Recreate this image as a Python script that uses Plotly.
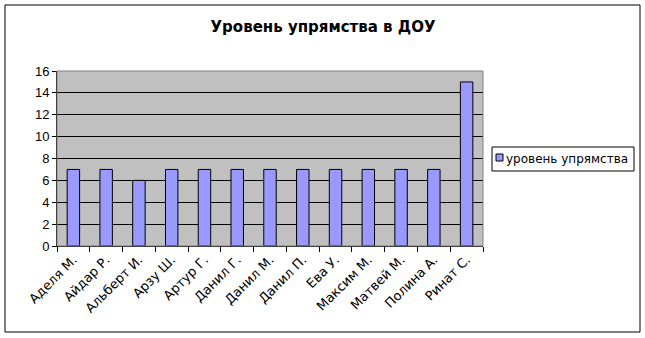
import plotly.graph_objects as go

categories = ["Аделя М.", "Айдар Р.", "Альберт И.", "Арзу Ш.", "Артур Г.", "Данил Г.",
              "Данил М.", "Данил П.", "Ева У.", "Максим М.", "Матвей М.", "Полина А.", "Ринат С."]
values = [7, 7, 6, 7, 7, 7, 7, 7, 7, 7, 7, 7, 15]
series_name = "уровень упрямства"
title = "Уровень упрямства в ДОУ"

W, H = 645, 338
L, R, T, B = 57, 483, 71, 246
BAR_COLOR = "#9999FF"

fig = go.Figure()
fig.add_trace(go.Bar(
    x=categories, y=values, name=series_name,
    marker=dict(color=BAR_COLOR, line=dict(color="black", width=1)),
    width=0.38, showlegend=False,
))

def px_x(p):
    return (p - L) / (R - L)

def px_y(p):
    return (B - p) / (B - T)

fig.update_layout(
    width=W, height=H,
    margin=dict(l=L, r=W - R, t=T, b=H - B, pad=0, autoexpand=False),
    paper_bgcolor="white", plot_bgcolor="#C0C0C0",
    font=dict(family="Liberation Sans, Arial, sans-serif", color="black", size=12),
    title=dict(text="<b>" + title + "</b>", x=323 / W, xanchor="center", y=1 - 27 / H, yanchor="middle",
               font=dict(size=15, family="DejaVu Sans, sans-serif")),
    showlegend=False,
    xaxis=dict(showgrid=False, showline=True, linecolor="black", linewidth=1,
               ticks="outside", ticklen=5, tickcolor="black", tickson="boundaries",
               tickangle=-45, tickfont=dict(size=13, family="DejaVu Sans, sans-serif"), mirror=False),
    yaxis=dict(range=[0, 16], dtick=2, showgrid=True, gridcolor="black", gridwidth=1,
               showline=True, linecolor="black", linewidth=1, ticks="outside", ticklen=4,
               tickcolor="black", tickfont=dict(size=13), zeroline=False),
    shapes=[
        dict(type="rect", xref="paper", yref="paper",
             x0=px_x(5), x1=px_x(640), y0=px_y(332), y1=px_y(5),
             line=dict(color="black", width=1), fillcolor="rgba(0,0,0,0)", layer="below"),
        dict(type="rect", xref="paper", yref="paper", x0=0, x1=1, y0=0, y1=1,
             line=dict(color="#808080", width=1), fillcolor="rgba(0,0,0,0)"),
        # legend box
        dict(type="rect", xref="paper", yref="paper",
             x0=px_x(492), x1=px_x(634), y0=px_y(171), y1=px_y(147),
             line=dict(color="black", width=1), fillcolor="white"),
        # legend swatch
        dict(type="rect", xref="paper", yref="paper",
             x0=px_x(496), x1=px_x(503), y0=px_y(161), y1=px_y(154),
             line=dict(color="black", width=1), fillcolor=BAR_COLOR),
    ],
    annotations=[
        dict(text=series_name, xref="paper", yref="paper", x=px_x(504), y=px_y(158.5),
             xanchor="left", yanchor="middle", showarrow=False,
             font=dict(size=12, family="DejaVu Sans, sans-serif", color="black")),
    ],
)

fig.write_html("out.html")
